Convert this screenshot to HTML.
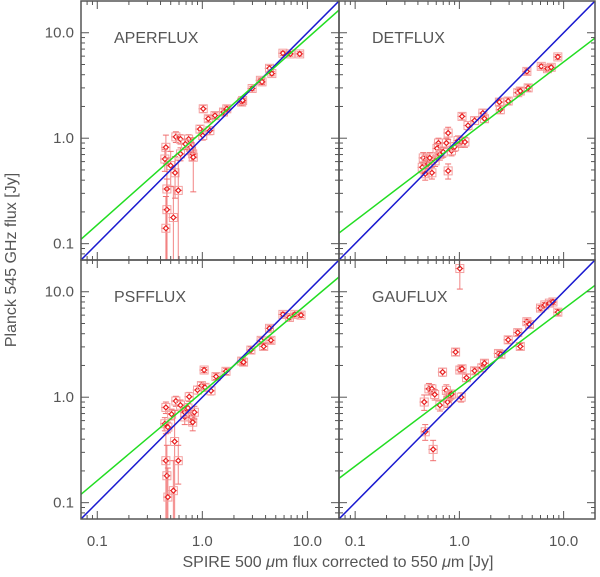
<!DOCTYPE html>
<html><head><meta charset="utf-8">
<style>
html,body{margin:0;padding:0;background:#fff;width:600px;height:577px;overflow:hidden;}
svg{display:block;font-family:"Liberation Sans",sans-serif;}
</style></head>
<body>
<svg id="chart" width="600" height="577" viewBox="0 0 600 577">
<text x="338" y="567" font-size="16" fill="#555" text-anchor="middle">SPIRE 500 <tspan font-style="italic">μ</tspan>m flux corrected to 550 <tspan font-style="italic">μ</tspan>m [Jy]</text>
<text transform="translate(16,260) rotate(-90)" font-size="16" fill="#555" text-anchor="middle">Planck 545 GHz flux [Jy]</text>
</svg>
<script>
const xTicks=[0.1,1,10];
const xTickLabels=["0.1","1.0","10.0"];
const yTicks=[0.1,1,10];
const yTickLabels=["0.1","1.0","10.0"];
const panelNames=["APERFLUX","DETFLUX","PSFFLUX","GAUFLUX"];
// green fit lines: value at x=0.07 and x=20
const fitLeft=[0.11,0.126,0.12,0.17];
const fitRight=[16.4,8.9,13.8,11.5];

const aperX=[0.45,0.44,0.50,0.55,0.46,0.46,0.45,0.53,0.59,0.56,0.62,0.74,0.79,0.81,0.77,0.82,0.95,1.01,1.02,1.14,1.18,1.32,1.59,1.71,2.37,2.42,2.98,3.57,3.70,4.36,4.59,5.85,6.88,8.45,0.62,0.69];
const aperY=[0.82,0.635,0.55,0.47,0.33,0.21,0.14,0.177,0.32,1.03,0.98,0.98,0.76,0.71,0.82,0.66,1.22,1.06,1.9,1.53,1.18,1.64,1.77,1.9,2.2,2.28,2.96,3.54,3.42,4.6,4.1,6.4,6.3,6.3,0.71,0.88];
const aperE=[0.25,0.15,0.2,0.2,0.32,0.2,0.14,0.17,0.3,0.12,0.1,0.1,0.15,0.1,0.08,0.35,0.1,0.1,0.15,0.1,0.1,0.1,0.12,0.12,0.15,0.12,0.15,0.2,0.2,0.3,0.2,0.3,0.3,0.3,0.1,0.1];

const detX=[0.45,0.48,0.44,0.50,0.545,0.47,0.585,0.63,0.61,0.65,0.75,0.78,0.78,0.84,0.90,0.97,1.04,1.13,1.06,1.21,1.40,1.68,1.74,2.42,2.47,2.94,3.63,3.84,4.57,4.44,6.1,7.0,7.6,8.8,0.52,0.70];
const detY=[0.65,0.63,0.53,0.57,0.47,0.46,0.61,0.90,0.80,0.70,0.90,1.12,0.49,0.76,0.83,0.95,0.92,0.92,1.61,1.32,1.47,1.73,1.53,2.2,1.86,2.25,2.7,2.8,3.0,4.3,4.8,4.56,4.7,5.9,0.65,0.74];
const detE=[0.08,0.08,0.06,0.06,0.06,0.06,0.07,0.1,0.09,0.08,0.1,0.15,0.08,0.08,0.08,0.1,0.1,0.1,0.12,0.12,0.12,0.15,0.12,0.15,0.15,0.15,0.2,0.2,0.2,0.25,0.25,0.25,0.25,0.3,0.08,0.08];

const psfX=[0.45,0.44,0.47,0.51,0.56,0.62,0.68,0.75,0.78,0.81,0.84,0.90,0.98,1.04,1.06,1.21,1.35,1.68,2.37,2.47,2.9,3.63,3.84,4.5,4.36,5.85,6.75,7.6,8.7,0.545,0.45,0.59,0.46,0.47,0.53,0.68,0.73];
const psfY=[0.80,0.56,0.52,0.69,0.92,0.84,0.65,1.01,0.65,0.58,0.72,1.17,1.29,1.81,1.24,1.15,1.57,1.76,2.2,2.15,2.8,3.46,3.03,3.46,4.5,6.1,5.7,6.1,6.0,0.38,0.25,0.25,0.18,0.113,0.13,0.72,0.79];
const psfE=[0.1,0.08,0.06,0.08,0.1,0.1,0.1,0.1,0.1,0.1,0.1,0.1,0.1,0.1,0.1,0.1,0.1,0.12,0.15,0.15,0.2,0.2,0.2,0.2,0.25,0.3,0.3,0.3,0.3,0.37,0.2,0.1,0.17,0.1,0.12,0.08,0.08];

const gauX=[1.01,0.46,0.51,0.545,0.58,0.65,0.69,0.75,0.78,0.77,0.81,0.84,0.92,1.01,1.06,1.04,1.17,1.40,1.64,1.74,2.37,2.5,2.94,3.63,3.84,4.44,4.7,6.0,6.6,7.3,7.9,8.8,0.47,0.56];
const gauY=[16.6,0.90,1.20,1.20,1.06,0.84,1.73,1.16,1.01,0.90,1.04,1.07,2.68,1.81,1.86,1.0,1.53,1.78,1.9,2.1,2.6,2.55,3.5,4.1,3.03,5.2,4.9,7.0,7.5,7.8,8.0,6.4,0.47,0.32];
const gauE=[6,0.15,0.15,0.12,0.12,0.1,0.15,0.15,0.1,0.1,0.1,0.1,0.2,0.15,0.15,0.1,0.12,0.12,0.15,0.15,0.2,0.2,0.25,0.25,0.2,0.3,0.3,0.4,0.4,0.4,0.4,0.4,0.08,0.07];

const panelX=[aperX,detX,psfX,gauX];
const panelY=[aperY,detY,psfY,gauY];
const panelE=[aperE,detE,psfE,gauE];

const NS="http://www.w3.org/2000/svg";
const svg=document.getElementById('chart');
const XMIN=0.07,XMAX=20,YMIN=0.07,YMAX=20;
const boxes=[[81,1,339,260],[339,1,595,260],[81,260,339,519],[339,260,595,519]];
function mk(tag,attrs,parent){const e=document.createElementNS(NS,tag);for(const k in attrs)e.setAttribute(k,attrs[k]);(parent||svg).appendChild(e);return e;}

boxes.forEach((b,p)=>{
  const [x0,y0,x1,y1]=b;
  const sx=v=>x0+(Math.log10(v)-Math.log10(XMIN))/(Math.log10(XMAX)-Math.log10(XMIN))*(x1-x0);
  const sy=v=>y1-(Math.log10(v)-Math.log10(YMIN))/(Math.log10(YMAX)-Math.log10(YMIN))*(y1-y0);
  const g=mk('g',{});
  
  
  const cid='clip'+p;
  const cp=mk('clipPath',{id:cid},g);mk('rect',{x:x0,y:y0,width:x1-x0,height:y1-y0},cp);
  const inner=mk('g',{'clip-path':'url(#'+cid+')'},g);
  const xs=panelX[p],ys=panelY[p],es=panelE[p];
  for(let i=0;i<xs.length;i++){
    const px=sx(xs[i]),py=sy(ys[i]);
    const pg=mk('g',{},inner);
    
    
    const lo=Math.max(ys[i]-es[i],0.01),hi=ys[i]+es[i];
    mk('line',{x1:px,x2:px,y1:sy(lo),y2:sy(hi),stroke:'#f07070','stroke-width':1,opacity:0.85},pg);
    mk('line',{x1:sx(xs[i]*0.9),x2:sx(xs[i]*1.1),y1:py,y2:py,stroke:'#f07070','stroke-width':1,opacity:0.85},pg);
    mk('line',{x1:px-3,x2:px+3,y1:sy(lo),y2:sy(lo),stroke:'#f07070','stroke-width':1},pg);
    mk('line',{x1:px-3,x2:px+3,y1:sy(hi),y2:sy(hi),stroke:'#f07070','stroke-width':1},pg);
    mk('rect',{x:px-4,y:py-4,width:8,height:8,fill:'none',stroke:'#f4a0a0','stroke-width':1},pg);
    mk('path',{d:`M${px-2.5},${py}L${px},${py-2.5}L${px+2.5},${py}L${px},${py+2.5}Z`,fill:'#fff',stroke:'#e82020','stroke-width':1.2},pg);
  }
  const blue=mk('line',{x1:sx(XMIN),y1:sy(YMIN),x2:sx(XMAX),y2:sy(YMAX),stroke:'#1a1ad0','stroke-width':1.5},inner);
  
  
  const green=mk('line',{x1:sx(XMIN),y1:sy(fitLeft[p]),x2:sx(XMAX),y2:sy(fitRight[p]),stroke:'#22dd22','stroke-width':1.5},inner);
  
  
  mk('rect',{x:x0,y:y0,width:x1-x0,height:y1-y0,fill:'none',stroke:'#555','stroke-width':1.5},g);
  for(let d=0.01;d<100;d*=10){for(let m=1;m<10;m++){const v=d*m;if(v<XMIN||v>XMAX)continue;const len=m===1?8:4;const X=sx(v);
    mk('line',{x1:X,x2:X,y1:y1,y2:y1-len,stroke:'#555'},g);mk('line',{x1:X,x2:X,y1:y0,y2:y0+len,stroke:'#555'},g);}}
  for(let d=0.01;d<100;d*=10){for(let m=1;m<10;m++){const v=d*m;if(v<YMIN||v>YMAX)continue;const len=m===1?8:4;const Y=sy(v);
    mk('line',{x1:x0,x2:x0+len,y1:Y,y2:Y,stroke:'#555'},g);mk('line',{x1:x1,x2:x1-len,y1:Y,y2:Y,stroke:'#555'},g);}}
  const lab=mk('text',{x:x0+33,y:y0+42,'font-size':16,fill:'#555'},g);
  lab.textContent=panelNames[p];
  
  
  if(p%2===0){yTicks.forEach((v,i)=>{const t=mk('text',{x:x0-7,y:sy(v)+5,'font-size':15,fill:'#555','text-anchor':'end'},g);t.textContent=yTickLabels[i];
    
    });}
  if(p>=2){xTicks.forEach((v,i)=>{const t=mk('text',{x:sx(v),y:y1+27,'font-size':15,fill:'#555','text-anchor':'middle'},g);t.textContent=xTickLabels[i];
    
    });}
});
</script>
</body></html>
